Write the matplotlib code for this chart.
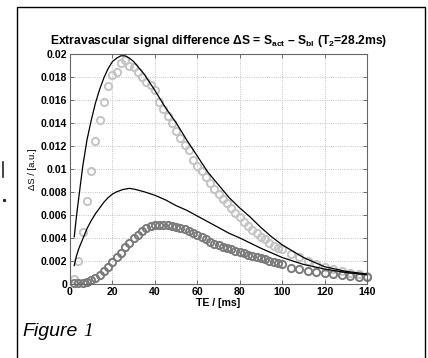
import numpy as np
import matplotlib
matplotlib.use("Agg")
import matplotlib.pyplot as plt
from matplotlib.patches import Rectangle
from matplotlib.lines import Line2D

plt.rcParams['font.family'] = ['Liberation Sans', 'DejaVu Sans']
plt.rcParams['mathtext.fontset'] = 'custom'
plt.rcParams['mathtext.rm'] = 'Liberation Sans'
plt.rcParams['mathtext.bf'] = 'Liberation Sans:bold'

# simulated points (light: upper, dark: lower)
te_pts = [2, 4, 6, 8, 10, 12, 14, 16, 18, 20, 22, 24, 26, 28, 30, 32, 34, 36, 38, 40,
          42, 44, 46, 48, 50, 52, 54, 56, 58, 60, 62, 64, 66, 68, 70, 72, 74, 76, 78, 80,
          82, 84, 86, 88, 90, 92, 94, 96, 98, 100,
          104, 108, 112, 116, 120, 124, 128, 132, 136, 140]
light = [0.0004, 0.0020, 0.0045, 0.0072, 0.0098, 0.0124, 0.0142, 0.0158, 0.0172, 0.0181,
         0.0184, 0.0192, 0.0194, 0.0189, 0.0188, 0.0184, 0.0180, 0.0175, 0.0173, 0.0168,
         0.0158, 0.0152, 0.0146, 0.0140, 0.0133, 0.0127, 0.0121, 0.0116, 0.0108, 0.0102,
         0.0098, 0.0093, 0.0088, 0.0082, 0.0078, 0.0074, 0.0070, 0.0066, 0.0062, 0.0058,
         0.0054, 0.0050, 0.0047, 0.0044, 0.0041, 0.0039, 0.0036, 0.0033, 0.0031, 0.0030,
         0.0026, 0.0023, 0.0020, 0.0017, 0.0015, 0.0013, 0.0011, 0.00098, 0.00084, 0.00068]
dark = [0.00006, 0.00009, 0.00013, 0.0002, 0.00035, 0.00055, 0.0008, 0.00113, 0.0015, 0.00188,
        0.00232, 0.00272, 0.00319, 0.00359, 0.00397, 0.00429, 0.00461, 0.00484, 0.00502, 0.00512,
        0.00516, 0.00515, 0.00512, 0.00504, 0.00498, 0.00484, 0.00476, 0.00461, 0.00446, 0.00429,
        0.00411, 0.00389, 0.00366, 0.00348, 0.00336, 0.00325, 0.00313, 0.00302, 0.0029, 0.00278,
        0.00267, 0.00255, 0.00247, 0.00238, 0.00226, 0.00215, 0.00203, 0.0019, 0.00182, 0.0017,
        0.00143, 0.00126, 0.00114, 0.00104, 0.00094, 0.00085, 0.00077, 0.00071, 0.00064, 0.00058]

# analytic curves
te_up = [2, 3, 4, 6, 8, 10, 12, 14, 16, 18, 20, 22, 24, 26, 28, 30, 35, 40, 45, 50,
         55, 60, 65, 70, 75, 80, 85, 90, 95, 100, 110, 120, 130, 140]
s_up = [0.0041, 0.0058, 0.0073, 0.0102, 0.0125, 0.0142, 0.0157, 0.0169, 0.0179, 0.0187,
        0.0193, 0.0196, 0.0198, 0.0198, 0.0196, 0.0193, 0.0182, 0.0168, 0.0153, 0.0140,
        0.0125, 0.0111, 0.0097, 0.0086, 0.0075, 0.0066, 0.0058, 0.0049, 0.0041, 0.0034,
        0.0023, 0.00150, 0.00110, 0.00087]
te_lo = [2, 3, 4, 6, 8, 10, 12, 14, 16, 18, 20, 22, 25, 28, 31, 35, 40, 45, 50, 55,
         60, 65, 70, 75, 80, 90, 100, 110, 120, 130, 140]
s_lo = [0.0016, 0.0024, 0.0030, 0.0039, 0.0048, 0.0055, 0.0061, 0.0066, 0.0071, 0.0075,
        0.0078, 0.0080, 0.0082, 0.0083, 0.0082, 0.0080, 0.0077, 0.0073, 0.0068, 0.0064,
        0.0059, 0.0054, 0.0049, 0.0044, 0.0040, 0.0031, 0.0023, 0.0017, 0.0013, 0.0010, 0.0008]

xticks = [0, 20, 40, 60, 80, 100, 120, 140]
yticks = [0, 0.002, 0.004, 0.006, 0.008, 0.01, 0.012, 0.014, 0.016, 0.018, 0.02]
ylabels = ['0', '0.002', '0.004', '0.006', '0.008', '0.01', '0.012', '0.014', '0.016', '0.018', '0.02']

fig = plt.figure(figsize=(4.28, 3.58), dpi=100)
ax = fig.add_axes([70/428, 1 - 284/358, 297/428, (284 - 53.5)/358])

ax.plot(te_pts, light, 'o', mfc='none', mec='#c4c4c4', ms=5.2, mew=1.4, clip_on=False)
ax.plot(te_pts, dark, 'o', mfc='none', mec='#7a7a7a', ms=5.2, mew=1.4, clip_on=False)
ax.plot(te_up, s_up, color='black', lw=0.9)
ax.plot(te_lo, s_lo, color='black', lw=0.9)

ax.set_xlim(0, 140)
ax.set_ylim(0, 0.02)
ax.set_xticks(xticks)
ax.set_xticklabels([str(v) for v in xticks], fontweight='bold', fontsize=7.6)
ax.set_yticks(yticks)
ax.set_yticklabels(ylabels, fontweight='bold', fontsize=7.6)
ax.tick_params(direction='in', length=3, width=0.6, color='#555555', pad=2,
               top=True, right=True)
ax.grid(True, linestyle=':', color='#b0b0b0', lw=0.6)
for sp in ax.spines.values():
    sp.set_color('#666666')
    sp.set_linewidth(0.8)

ax.set_title('Extravascular signal difference ΔS = S$_{\\mathbf{act}}$ – S$_{\\mathbf{bl}}$ (T$_{\\mathbf{2}}$=28.2ms)',
             fontweight='bold', fontsize=8.7, pad=7)
ax.set_xlabel('TE / [ms]', fontweight='bold', fontsize=7.6, labelpad=1)
ax.set_ylabel('ΔS / [a.u.]', fontsize=6.8, labelpad=3)

fig.text(22/428, 1 - 332/358, 'Figure', style='italic', fontsize=14, va='center')
fig.text(83/428, 1 - 332/358, '1', family='Liberation Serif', style='italic',
         fontsize=14, va='center')

# outer frame and margin marks
fig.add_artist(Rectangle((17/428, -0.05), 408/428, 1.05 - 7/358, transform=fig.transFigure,
                         fill=False, ec='black', lw=1.0))
fig.add_artist(Line2D([3.5/428, 3.5/428], [1 - 162/358, 1 - 177/358], transform=fig.transFigure,
                      color='#222222', lw=1.2))
fig.add_artist(Line2D([4/428], [1 - 200/358], transform=fig.transFigure, marker='s', ms=1.2,
                      color='#222222', lw=0))

fig.savefig('out.png', dpi=100)
